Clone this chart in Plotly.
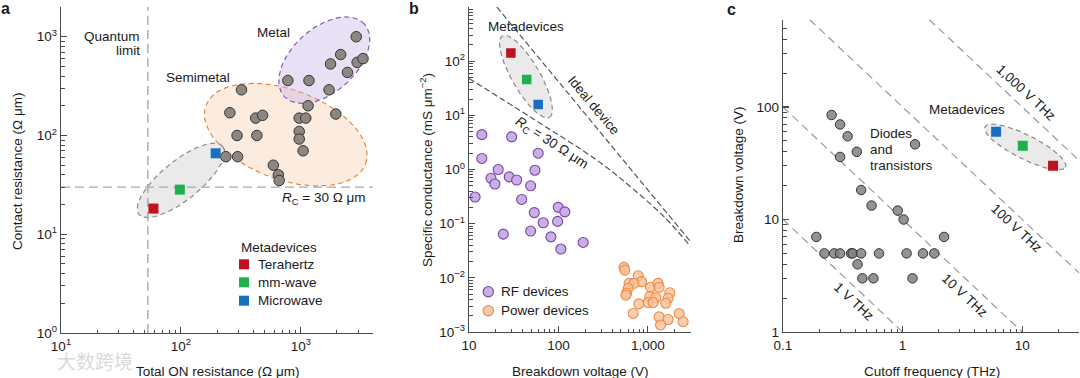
import numpy as np
import plotly.graph_objects as go

# ======================= DATA =======================
# Panel a: contact resistance vs total ON resistance
a_dot_ron = [2900, 2150, 1770, 2950, 3300, 2450, 780, 1170, 1720, 320, 1150, 256, 420, 480,
             970, 1100, 1960, 294, 430, 970, 970, 1045, 237, 297, 590, 650, 660]
a_dot_rc = [1000, 660, 530, 550, 600, 435, 360, 360, 290, 290, 200, 170, 150, 160,
            150, 150, 165, 100, 100, 110, 92, 70, 61, 61, 50, 40, 35]
meta_names = ["Terahertz", "mm-wave", "Microwave"]
meta_colors = ["#c0111f", "#1fb04c", "#1b6fbf"]
a_meta_ron = [59, 98, 195]
a_meta_rc = [18.2, 28.3, 66]
quantum_limit_ron = 53
rc_limit = 30

# Panel b: specific conductance vs breakdown voltage
rf_v = [13.9, 30, 13.9, 59.4, 21.2, 28.2, 34.1, 17.6, 19.5, 54.6, 48.9, 11.7, 38.8, 53.7,
        99.5, 118, 67.6, 98, 24.2, 48.9, 82.4, 106.6, 189]
rf_g = [4.4, 4.0, 1.6, 2.0, 1.0, 0.73, 0.64, 0.69, 0.54, 0.97, 0.5, 0.31, 0.28, 0.16,
        0.2, 0.165, 0.104, 0.11, 0.064, 0.073, 0.057, 0.034, 0.045]
pw_v = [540, 553, 780, 851, 618, 698, 603, 1072, 1303, 1337, 578, 568, 1762, 1052, 1228,
        1686, 793, 1007, 1145, 1589, 685, 1337, 1686, 1387, 2240, 2480]
pw_g = [0.0156, 0.0139, 0.0109, 0.0085, 0.0079, 0.0079, 0.0064, 0.0067, 0.0079, 0.0067,
        0.0052, 0.0048, 0.0053, 0.0045, 0.0043, 0.0042, 0.0033, 0.0035, 0.0035, 0.0034,
        0.0022, 0.0019, 0.0017, 0.00135, 0.0022, 0.00155]
b_meta_v = [29.4, 44.2, 59.4]
b_meta_g = [142, 45.9, 15.9]
ideal_v = [20.5, 3000]
ideal_g = [1000, 0.0467]
rc30_v = [10, 49, 275, 650, 1550, 3000]
rc30_g = [48, 9.2, 1.45, 0.47, 0.13, 0.038]

# Panel c: breakdown voltage vs cutoff frequency
c_f = [0.255, 0.30, 0.347, 0.414, 0.30, 1.27, 0.45, 0.55, 0.91, 1.02, 0.19, 2.22, 0.222,
       0.268, 0.30, 0.371, 0.383, 0.45, 0.635, 1.08, 1.48, 1.84, 0.42, 0.461, 0.57, 1.21]
c_v = [85, 70, 55, 40, 36, 46.6, 18.3, 13.3, 12, 10, 7, 7, 5, 5, 5, 5, 5, 5, 5, 5, 5, 5,
       4, 3, 3, 3]
c_meta_f = [18.1, 10.1, 6.05]
c_meta_v = [30.1, 45.3, 60.3]
vf_products = [1, 10, 100, 1000]
vf_labels = ["1 V THz", "10 V THz", "100 V THz", "1,000 V THz"]

# ======================= LAYOUT GEOMETRY =======================
W, H = 1080, 378
FONT = "Liberation Sans, Arial, Helvetica, sans-serif"
TXT = "#1a1a1a"
AX = "#4a4a4a"
BOX = {"a": (61, 373, 7, 333), "b": (469, 690.5, 7, 332), "c": (783, 1079.3, 19.5, 332)}
RANGES = {"a": ([1, np.log10(4000)], [0, np.log10(2000)]),
          "b": ([1, np.log10(3000)], [-3, 3]),
          "c": ([-1, np.log10(30)], [0, np.log10(600)])}
REF = {"a": ("x", "y"), "b": ("x2", "y2"), "c": ("x3", "y3")}


def ppd(p):
    l, r, t, b = BOX[p]
    xr, yr = RANGES[p]
    return (r - l) / (xr[1] - xr[0]), (b - t) / (yr[1] - yr[0])


def ellipse(p, cx, cy, a, b, ang):
    kx, ky = ppd(p)
    t = np.linspace(0, 2 * np.pi, 181)
    th = np.deg2rad(ang)
    u, v = a * np.cos(t), b * np.sin(t)
    dx = u * np.cos(th) - v * np.sin(th)
    dy = u * np.sin(th) + v * np.cos(th)
    return 10 ** (np.log10(cx) + dx / kx), 10 ** (np.log10(cy) + dy / ky)


fig = go.Figure()


def add(p, **kw):
    xa, ya = REF[p]
    fig.add_trace(go.Scatter(xaxis=xa, yaxis=ya, showlegend=False, hoverinfo="skip", **kw))


def ell(p, cx, cy, a, b, ang, line, fill, dash="5px,3.5px"):
    ex, ey = ellipse(p, cx, cy, a, b, ang)
    add(p, x=ex, y=ey, mode="lines", fill="toself", fillcolor=fill,
        line=dict(color=line, width=1.2, dash=dash))


# ---------------- Panel a ----------------
ell("a", 750, 102, 85, 45, -20, "#e8873c", "rgba(248,205,170,0.38)")
ell("a", 1570, 579, 54, 32, 42, "#8a56bf", "rgba(195,175,228,0.38)")
ell("a", 100, 35.1, 54, 19.5, 39, "#8a8a8a", "rgba(225,225,225,0.7)")
ax_x = [10 ** v for v in RANGES["a"][0]]
ax_y = [10 ** v for v in RANGES["a"][1]]
add("a", x=[quantum_limit_ron] * 2, y=ax_y, mode="lines",
    line=dict(color="#a8a8a8", width=1.4, dash="9px,5px"))
add("a", x=ax_x, y=[rc_limit] * 2, mode="lines",
    line=dict(color="#a8a8a8", width=1.4, dash="9px,5px"))
add("a", x=a_dot_ron, y=a_dot_rc, mode="markers",
    marker=dict(size=10.5, color="#8d8782", line=dict(color="#333333", width=1)))
for i in range(3):
    add("a", x=[a_meta_ron[i]], y=[a_meta_rc[i]], mode="markers",
        marker=dict(symbol="square", size=10, color=meta_colors[i], line=dict(width=0)))

# ---------------- Panel b ----------------
ell("b", 43.4, 51.8, 47, 14, -60, "#8a8a8a", "rgba(225,225,225,0.7)")
add("b", x=ideal_v, y=ideal_g, mode="lines", line=dict(color="#555555", width=1.2, dash="6px,3px"))
add("b", x=rc30_v, y=rc30_g, mode="lines", line=dict(color="#555555", width=1.2, dash="6px,3px",
                                                      shape="spline", smoothing=1.0))
add("b", x=rf_v, y=rf_g, mode="markers",
    marker=dict(size=10, color="#c9b0e2", line=dict(color="#7a42ad", width=1.1)))
add("b", x=pw_v, y=pw_g, mode="markers",
    marker=dict(size=10, color="rgba(248,192,152,0.78)", line=dict(color="#ee8a43", width=1.1)))
for i in range(3):
    add("b", x=[b_meta_v[i]], y=[b_meta_g[i]], mode="markers",
        marker=dict(symbol="square", size=9.5, color=meta_colors[i], line=dict(width=0)))

# ---------------- Panel c ----------------
cxr = [10 ** v for v in RANGES["c"][0]]
cyr = [10 ** v for v in RANGES["c"][1]]
for prod in vf_products:
    f0 = max(cxr[0], prod / cyr[1])
    f1 = min(cxr[1], prod / cyr[0])
    add("c", x=[f0, f1], y=[prod / f0, prod / f1], mode="lines",
        line=dict(color="#9a9a9a", width=1.2, dash="8px,5px"))
ell("c", 10.6, 44.1, 45, 12, -26.6, "#8a8a8a", "rgba(225,225,225,0.7)")
add("c", x=c_f, y=c_v, mode="markers",
    marker=dict(size=9.5, color="rgba(128,128,128,0.85)", line=dict(color="#333333", width=1)))
for i in range(3):
    add("c", x=[c_meta_f[i]], y=[c_meta_v[i]], mode="markers",
        marker=dict(symbol="square", size=10, color=meta_colors[i], line=dict(width=0)))


# ======================= AXES =======================
def axis_cfg(p, which, tickvals, ticktext, anchor):
    l, r, t, b = BOX[p]
    xr, yr = RANGES[p]
    if which == "x":
        dom, rng = [l / W, r / W], xr
    else:
        dom, rng = [1 - b / H, 1 - t / H], yr
    lo, hi = rng
    minor_vals = []
    for e in range(int(np.floor(lo)) - 1, int(np.ceil(hi)) + 1):
        for m in range(2, 10):
            v = m * 10.0 ** e
            if lo - 1e-9 <= np.log10(v) <= hi + 1e-6:
                minor_vals.append(v)
    return dict(type="log", range=rng, domain=dom, anchor=anchor, automargin=False,
                showline=True, linecolor=AX, linewidth=1.3,
                ticks="inside", ticklen=6, tickwidth=1.1, tickcolor=AX,
                tickmode="array", tickvals=tickvals, ticktext=ticktext,
                tickfont=dict(size=13.5, color=TXT, family=FONT),
                showgrid=False, zeroline=False, fixedrange=True,
                minor=dict(tickmode="array", tickvals=minor_vals, ticks="inside",
                           ticklen=3.5, tickwidth=1, tickcolor=AX, showgrid=False))


sup = lambda n: "10<sup>%s</sup>" % str(n).replace("-", "\u2212")
fig.update_layout(
    xaxis=axis_cfg("a", "x", [10, 100, 1000], [sup(1), sup(2), sup(3)], "y"),
    yaxis=axis_cfg("a", "y", [1, 10, 100, 1000], [sup(0), sup(1), sup(2), sup(3)], "x"),
    xaxis2=axis_cfg("b", "x", [10, 100, 1000], ["10", "100", "1,000"], "y2"),
    yaxis2=axis_cfg("b", "y", [10.0 ** k for k in range(-3, 4)], [sup(k) for k in range(-3, 4)], "x2"),
    xaxis3=axis_cfg("c", "x", [0.1, 1, 10], ["0.1", "1", "10"], "y3"),
    yaxis3=axis_cfg("c", "y", [1, 10, 100], ["1", "10", "100"], "x3"),
)

# ======================= TEXT =======================
ann = []
shapes = []


def T(x, y, text, size=13.5, xanchor="center", yanchor="middle", angle=0, color=TXT, bold=False,
      family=FONT):
    if bold:
        text = "<b>%s</b>" % text
    ann.append(dict(x=x / W, y=1 - y / H, xref="paper", yref="paper", text=text, showarrow=False,
                    xanchor=xanchor, yanchor=yanchor, textangle=angle,
                    font=dict(size=size, color=color, family=family)))


# panel labels
T(5, 8, "a", size=16, bold=True)
T(414, 8, "b", size=16, bold=True)
T(731, 9, "c", size=16, bold=True)

# axis titles
T(217, 371, "Total ON resistance (\u03a9 \u03bcm)")
T(17, 172, "Contact resistance (\u03a9 \u03bcm)", angle=-90)
T(580, 371, "Breakdown voltage (V)")
T(426, 170, "Specific conductance (mS \u03bcm<sup>\u22122</sup>)", angle=-90)
T(932, 371, "Cutoff frequency (THz)")
T(738, 175, "Breakdown voltage (V)", angle=-90)

# panel a labels
T(142, 36, "Quantum", xanchor="right")
T(142, 51, "limit", xanchor="right")
T(273, 32, "Metal")
T(198, 77, "Semimetal")
T(368, 198, "<i>R</i><sub>C</sub> = 30 \u03a9 \u03bcm", xanchor="right")
T(239, 247, "Metadevices", xanchor="left")
leg_y = [264.3, 282.3, 300.7]
for i in range(3):
    shapes.append(dict(type="rect", xref="paper", yref="paper",
                       x0=239 / W, x1=249 / W, y0=1 - (leg_y[i] + 5) / H, y1=1 - (leg_y[i] - 5) / H,
                       fillcolor=meta_colors[i], line=dict(width=0)))
    T(256, leg_y[i], meta_names[i], xanchor="left")

# panel b labels
T(526, 27, "Metadevices")
T(594, 105, "Ideal device", angle=50)
T(552, 143, "<i>R</i><sub>C</sub> = 30 \u03a9 \u03bcm", angle=33)
for yy, nm, fc, lc in [(291.7, "RF devices", "#c9b0e2", "#7a42ad"),
                       (310.7, "Power devices", "rgba(248,192,152,0.85)", "#ee8a43")]:
    shapes.append(dict(type="circle", xref="paper", yref="paper",
                       x0=(488.3 - 5.2) / W, x1=(488.3 + 5.2) / W,
                       y0=1 - (yy + 5.2) / H, y1=1 - (yy - 5.2) / H,
                       fillcolor=fc, line=dict(color=lc, width=1.1)))
    T(498.5, yy, nm, xanchor="left")

# panel c labels
T(967, 110, "Metadevices")
T(868, 133, "Diodes", xanchor="left")
T(868, 150, "and", xanchor="left")
T(868, 166, "transistors", xanchor="left")
for (cx, cy), lab in zip([(854, 301), (965, 295), (1017, 228), (1026, 92)], vf_labels):
    T(cx, cy, lab, angle=43)

# watermark
T(95, 360, "\u5927\u6570\u8de8\u5883", size=19, color="rgba(170,170,170,0.45)",
  family="Noto Sans CJK SC")

fig.update_layout(width=W, height=H, autosize=False, margin=dict(l=0, r=0, t=0, b=0),
                  paper_bgcolor="white", plot_bgcolor="white", showlegend=False,
                  annotations=ann, shapes=shapes, font=dict(family=FONT, color=TXT),
                  hovermode=False)
fig.write_html("out.html", config={"displayModeBar": False, "staticPlot": True},
               post_script="document.body.style.margin='0';document.body.style.padding='0';"
                           "document.body.style.overflow='hidden';")
